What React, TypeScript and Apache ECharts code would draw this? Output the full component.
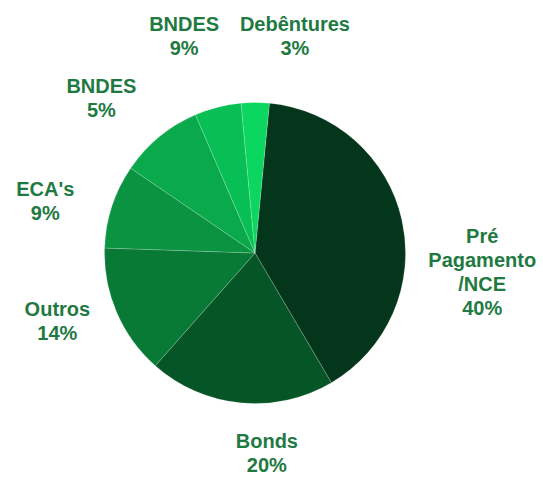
import React, { useEffect, useRef } from "react";
import * as echarts from "echarts";

const categories = ["Pré\nPagamento\n/NCE", "Bonds", "Outros", "ECA's", "BNDES", "BNDES", "Debêntures"];
const values = [40, 20, 14, 9, 9, 5, 3];
const labelPercents = ["40%", "20%", "14%", "9%", "5%", "9%", "3%"];
const colors = ["#03361a", "#055526", "#087a36", "#0a9341", "#0aa94b", "#08bf55", "#0bd660"];
// label anchor: [angle clockwise from 12 o'clock (deg), distance from centre (px)]
const labelPolar: [number, number][] = [
  [94.8, 228],
  [176.6, 200],
  [251, 209],
  [283.9, 216],
  [315.2, 218],
  [341.9, 228],
  [10.4, 221],
];

const CX = 255;
const CY = 253;

export default function App() {
  const ref = useRef<HTMLDivElement>(null);
  useEffect(() => {
    if (!ref.current) return;
    const chart = echarts.init(ref.current, undefined, { renderer: "svg" });
    chart.setOption({
      animation: false,
      backgroundColor: "#ffffff",
      series: [
        {
          type: "pie",
          center: [CX, CY],
          radius: 150.5,
          startAngle: 84.5,
          clockwise: true,
          avoidLabelOverlap: false,
          data: categories.map((name, i) => ({
            name,
            value: values[i],
            itemStyle: { color: colors[i] },
          })),
          itemStyle: { borderColor: "rgba(255,255,255,0.18)", borderWidth: 1 },
          label: {
            show: true,
            position: "outside",
            formatter: (p: any) => `${p.name}\n${labelPercents[p.dataIndex]}`,
            color: "#1f7a42",
            fontFamily: "'Liberation Sans', Arial, sans-serif",
            fontWeight: "bold",
            fontSize: 20,
            lineHeight: 24,
            align: "center",
          },
          labelLine: { show: false },
          labelLayout: (params: any) => {
            const [a, r] = labelPolar[params.dataIndex];
            const rad = (a * Math.PI) / 180;
            return {
              x: CX + r * Math.sin(rad),
              y: CY - r * Math.cos(rad),
              align: "center",
              verticalAlign: "middle",
            };
          },
          emphasis: { disabled: true },
        },
      ],
    });
    return () => chart.dispose();
  }, []);
  return (
    <div
      ref={ref}
      style={{ position: "fixed", left: 0, top: 0, width: 543, height: 477, background: "#fff" }}
    />
  );
}
